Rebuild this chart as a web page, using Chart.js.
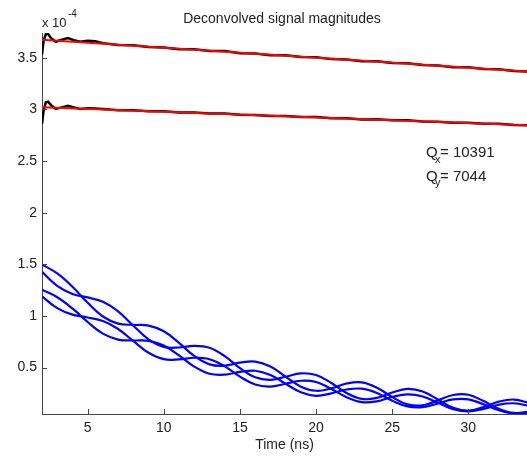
<!DOCTYPE html>
<html>
<head>
<meta charset="utf-8">
<script src="https://cdn.jsdelivr.net/npm/chart.js@4/dist/chart.umd.min.js"></script>
<style>
html, body { margin: 0; padding: 0; background: #fff; }
#wrap { width: 527px; height: 456px; }
</style>
</head>
<body>
<div id="wrap"><canvas id="sigChart" width="527" height="456"></canvas></div>
<script>
// all magnitudes in units of 1e-4, time in ns
var blueTime = [2,3,4,5,6,7,8,9,10,11,12,13,14,15,16,17,18,19,20,21,22,23,24,25,26,27,28,29,30,31,32,33,34];
var blueA1 = [1.499,1.411,1.283,1.127,0.994,0.925,0.913,0.906,0.851,0.738,0.612,0.531,0.518,0.547,0.557,0.510,0.411,0.315,0.275,0.298,0.345,0.356,0.304,0.214,0.143,0.134,0.182,0.234,0.236,0.175,0.100,0.060,0.073];
var blueA2 = [1.427,1.291,1.213,1.179,1.136,1.043,0.905,0.773,0.699,0.694,0.710,0.691,0.610,0.495,0.405,0.381,0.411,0.444,0.427,0.350,0.253,0.196,0.206,0.258,0.293,0.268,0.190,0.110,0.082,0.117,0.170,0.190,0.157];
var blueB1 = [1.254,1.181,1.072,0.941,0.828,0.771,0.762,0.759,0.713,0.617,0.509,0.440,0.431,0.458,0.469,0.428,0.343,0.260,0.226,0.250,0.287,0.295,0.253,0.179,0.124,0.116,0.152,0.191,0.191,0.144,0.086,0.054,0.064];
var blueB2 = [1.189,1.075,1.012,0.985,0.950,0.873,0.756,0.643,0.581,0.579,0.595,0.580,0.511,0.412,0.335,0.316,0.343,0.372,0.360,0.292,0.213,0.165,0.173,0.215,0.240,0.220,0.158,0.097,0.075,0.100,0.140,0.154,0.128];

var blackTime = [2,2.1,2.25,2.4,2.6,2.9,3.3,3.7,4.1,4.5,5,5.5,6,7,8,9,10,11,12,13,14,15,16,17,18,19,20,21,22,23,24,25,26,27,28,29,30,31,32,33,34];
var blackUpper = [3.53,3.66,3.73,3.73,3.69,3.655,3.675,3.69,3.67,3.655,3.665,3.66,3.642,3.623,3.622,3.604,3.599,3.583,3.582,3.566,3.565,3.545,3.542,3.525,3.524,3.508,3.505,3.487,3.484,3.467,3.466,3.449,3.447,3.429,3.426,3.408,3.408,3.391,3.389,3.371,3.367];
var blackLower = [2.86,2.98,3.07,3.075,3.04,3.005,3.02,3.035,3.02,3.005,3.012,3.008,3.004,2.992,2.993,2.982,2.981,2.969,2.970,2.960,2.960,2.948,2.947,2.936,2.937,2.927,2.927,2.915,2.914,2.903,2.904,2.894,2.894,2.882,2.881,2.870,2.871,2.861,2.860,2.849,2.847];

var fitTime = [2, 34];
var fitUpper = [3.675, 3.365];
var fitLower = [3.022, 2.846];

var xTicks = [5, 10, 15, 20, 25, 30];
var yTicks = [0.5, 1, 1.5, 2, 2.5, 3, 3.5];

var FONT = '"Liberation Sans", Arial, sans-serif';
var TEXT = '#222';
var AXIS = '#444';

function pts(xs, ys) {
  return xs.map(function (x, i) { return { x: x, y: ys[i] }; });
}

// lower order is drawn on top
function line(xs, ys, color, width, tension, order) {
  return {
    data: pts(xs, ys),
    borderColor: color,
    backgroundColor: color,
    borderWidth: width,
    pointRadius: 0,
    tension: tension,
    fill: false,
    order: order
  };
}

// MATLAB style: ticks pointing into the plot, title, exponent and Q labels
var extras = {
  id: 'extras',
  afterDraw: function (chart) {
    var ctx = chart.ctx;
    var xs = chart.scales.x, ys = chart.scales.y;
    var a = chart.chartArea;
    ctx.save();
    ctx.strokeStyle = AXIS;
    ctx.lineWidth = 1;
    ctx.beginPath();
    xTicks.forEach(function (v) {
      var px = Math.round(xs.getPixelForValue(v)) + 0.5;
      ctx.moveTo(px, a.bottom);
      ctx.lineTo(px, a.bottom - 5);
    });
    yTicks.forEach(function (v) {
      var py = Math.round(ys.getPixelForValue(v)) + 0.5;
      ctx.moveTo(a.left, py);
      ctx.lineTo(a.left + 5, py);
    });
    ctx.stroke();

    ctx.fillStyle = TEXT;
    ctx.textBaseline = 'alphabetic';
    ctx.textAlign = 'center';
    ctx.font = '14px ' + FONT;
    ctx.fillText('Deconvolved signal magnitudes', 282, 23);

    ctx.textAlign = 'left';
    ctx.font = '13px ' + FONT;
    ctx.fillText('x 10', 42, 27);
    ctx.font = '10px ' + FONT;
    ctx.fillText('-4', 68, 17);

    ctx.font = '15px ' + FONT;
    ctx.fillText('Q', 426, 157);
    ctx.fillText('= 10391', 440, 157);
    ctx.fillText('Q', 426, 181);
    ctx.fillText('= 7044', 440, 181);
    ctx.font = '11px ' + FONT;
    ctx.fillText('x', 435, 163);
    ctx.fillText('y', 435, 186);
    ctx.restore();
  }
};

var ctxS = document.getElementById('sigChart').getContext('2d');
var sigChart = new Chart(ctxS, {
  type: 'line',
  data: {
    datasets: [
      line(blueTime, blueA1, '#0000ff', 2.2, 0.4, 3),
      line(blueTime, blueA2, '#0000ff', 2.2, 0.4, 3),
      line(blueTime, blueB1, '#0000ff', 2.2, 0.4, 3),
      line(blueTime, blueB2, '#0000ff', 2.2, 0.4, 3),
      line(blackTime, blackUpper, '#000000', 2.5, 0, 2),
      line(blackTime, blackLower, '#000000', 2.5, 0, 2),
      line(fitTime, fitUpper, '#ff0000', 2, 0, 1),
      line(fitTime, fitLower, '#ff0000', 2, 0, 1)
    ]
  },
  options: {
    responsive: false,
    animation: false,
    devicePixelRatio: 1,
    layout: { padding: { top: 33, left: 0, right: 0, bottom: 0 } },
    plugins: {
      legend: { display: false },
      tooltip: { enabled: false },
      title: { display: false }
    },
    scales: {
      x: {
        type: 'linear',
        min: 2,
        max: 33.85,
        afterBuildTicks: function (s) { s.ticks = xTicks.map(function (v) { return { value: v }; }); },
        afterFit: function (s) { s.height = 42; },
        grid: { drawOnChartArea: false, drawTicks: false, color: 'rgba(0,0,0,0)' },
        border: { display: true, color: AXIS, width: 1 },
        ticks: { color: TEXT, font: { family: FONT, size: 14 }, padding: 6, maxRotation: 0,
                 callback: function (v) { return String(v); } },
        title: { display: true, text: 'Time (ns)', color: TEXT, font: { family: FONT, size: 14 }, padding: { top: 0, bottom: 2 } }
      },
      y: {
        type: 'linear',
        min: 0.05,
        max: 3.74,
        afterBuildTicks: function (s) { s.ticks = yTicks.map(function (v) { return { value: v }; }); },
        afterFit: function (s) { s.width = 42; },
        grid: { drawOnChartArea: false, drawTicks: false, color: 'rgba(0,0,0,0)' },
        border: { display: true, color: AXIS, width: 1 },
        ticks: { color: TEXT, font: { family: FONT, size: 14 }, padding: 5,
                 callback: function (v) { return String(v); } }
      }
    }
  },
  plugins: [extras]
});
</script>
</body>
</html>
